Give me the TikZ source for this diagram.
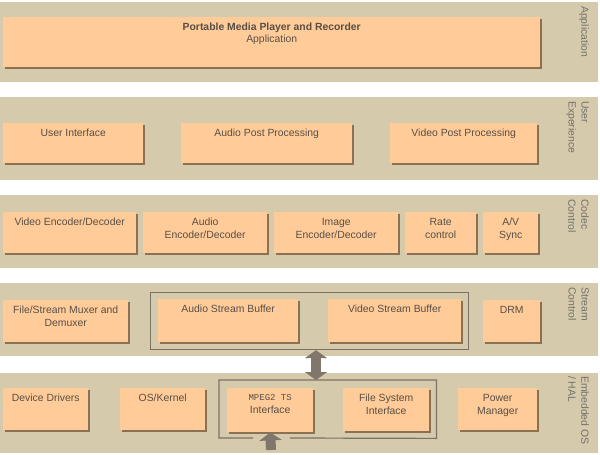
\documentclass[tikz,border=0pt]{standalone}
\usepackage{fontspec}
\setmainfont{Liberation Sans}
\newfontfamily\monofam{Liberation Mono}
\usetikzlibrary{arrows.meta,shadows}

\definecolor{bandc}{RGB}{214,202,172}
\definecolor{boxc}{RGB}{255,204,153}
\definecolor{shadc}{RGB}{139,112,82}
\definecolor{txtc}{RGB}{88,78,68}
\definecolor{tagc}{RGB}{115,112,105}
\definecolor{grpc}{RGB}{122,114,100}
\definecolor{arrc}{RGB}{128,118,108}

\begin{document}
\begin{tikzpicture}[x=1pt,y=-1pt,
  font=\fontsize{10.4}{13}\selectfont,
  blk/.style={fill=boxc, anchor=north west, inner sep=0pt,
    drop shadow={shadow xshift=1.3pt, shadow yshift=-1.6pt, fill=shadc, opacity=1}},
  txt/.style={anchor=north, yshift=-4pt, inner sep=2pt, text=txtc, align=center},
  tag/.style={rotate=-90, anchor=north west, inner sep=0pt, text=tagc, align=left},
  grp/.style={draw=grpc, line width=1.2pt},
  fat/.style={draw=arrc, line width=10pt,
    {Triangle[width=22pt,length=8pt]}-{Triangle[width=22pt,length=8pt]}},
  fatup/.style={draw=arrc, line width=10pt, -{Triangle[width=22pt,length=8pt]}}]
\useasboundingbox (0,0) rectangle (600,455);

% layer bands
\fill[bandc] (0,2) rectangle (598,82);
\fill[bandc] (0,97) rectangle (598,180);
\fill[bandc] (0,195) rectangle (598,268);
\fill[bandc] (0,283) rectangle (598,356);
\fill[bandc] (0,373) rectangle (598,453);

\node[tag] (tagapp) at (589,6) {Application};
\node[tag] (tagux) at (589,101) {User\\Experience};
\node[tag] (tagcodec) at (589,199) {Codec\\Control};
\node[tag] (tagstream) at (589,287) {Stream\\Control};
\node[tag] (tagos) at (589,376) {Embedded OS\\/ HAL};

% application
\node[blk, minimum width=537pt, minimum height=50pt,
  label={[txt, font=\fontsize{10.4}{12}\selectfont]north:{\textbf{Portable Media Player and Recorder}\\Application}}] (app) at (3,17) {};

% user experience
\node[blk, minimum width=140pt, minimum height=40pt, label={[txt]north:User Interface}] (ui) at (3,123) {};
\node[blk, minimum width=171pt, minimum height=40pt, label={[txt]north:Audio Post Processing}] (apost) at (181,123) {};
\node[blk, minimum width=147pt, minimum height=40pt, label={[txt]north:Video Post Processing}] (vpost) at (390,123) {};

% codec control
\node[blk, minimum width=133pt, minimum height=41pt, label={[txt]north:Video Encoder/Decoder}] (vcodec) at (3,212) {};
\node[blk, minimum width=124pt, minimum height=41pt, label={[txt]north:{Audio\\Encoder/Decoder}}] (acodec) at (143,212) {};
\node[blk, minimum width=124pt, minimum height=41pt, label={[txt]north:{Image\\Encoder/Decoder}}] (icodec) at (274,212) {};
\node[blk, minimum width=71pt, minimum height=41pt, label={[txt]north:{Rate\\control}}] (rate) at (405,212) {};
\node[blk, minimum width=55pt, minimum height=41pt, label={[txt]north:{A/V\\Sync}}] (avsync) at (483,212) {};

% stream control
\node[blk, minimum width=125pt, minimum height=42pt, label={[txt]north:{File/Stream Muxer and\\Demuxer}}] (mux) at (3,300) {};
\node[grp, anchor=north west, minimum width=318pt, minimum height=57pt] (bufgrp) at (150,292) {};
\node[blk, minimum width=140pt, minimum height=43pt, label={[txt]north:Audio Stream Buffer}] (abuf) at (158,299) {};
\node[blk, minimum width=133pt, minimum height=43pt, label={[txt]north:Video Stream Buffer}] (vbuf) at (328,299) {};
\node[blk, minimum width=57pt, minimum height=42pt, label={[txt]north:DRM}] (drm) at (483,300) {};

% embedded os / hal
\node[blk, minimum width=85pt, minimum height=42pt, label={[txt]north:Device Drivers}] (drv) at (3,388) {};
\node[blk, minimum width=85pt, minimum height=42pt, label={[txt]north:OS/Kernel}] (kernel) at (120,388) {};
\node[anchor=north west, inner sep=0pt, minimum width=217pt, minimum height=58pt] (ifgrp) at (219,380) {};
\node[blk, minimum width=86pt, minimum height=44pt, label={[txt]north:{{\monofam\fontsize{9}{13}\selectfont MPEG2 TS}\\Interface}}] (mpeg) at (227,388) {};
\node[blk, minimum width=86pt, minimum height=43pt, label={[txt]north:{File System\\Interface}}] (fsys) at (343,388) {};
\node[blk, minimum width=79pt, minimum height=42pt, label={[txt]north:{Power\\Manager}}] (power) at (458,388) {};
\draw[grp] (253,438) -| (ifgrp.north west) -| (ifgrp.south east) -- (290,438);

% data paths
\coordinate (ax) at (316,0);
\coordinate (osin) at (271,450);
\draw[fat] (ax |- bufgrp.south) -- (ax |- ifgrp.north);
\draw[fatup] (osin) -- (mpeg.south);
\end{tikzpicture}
\end{document}
